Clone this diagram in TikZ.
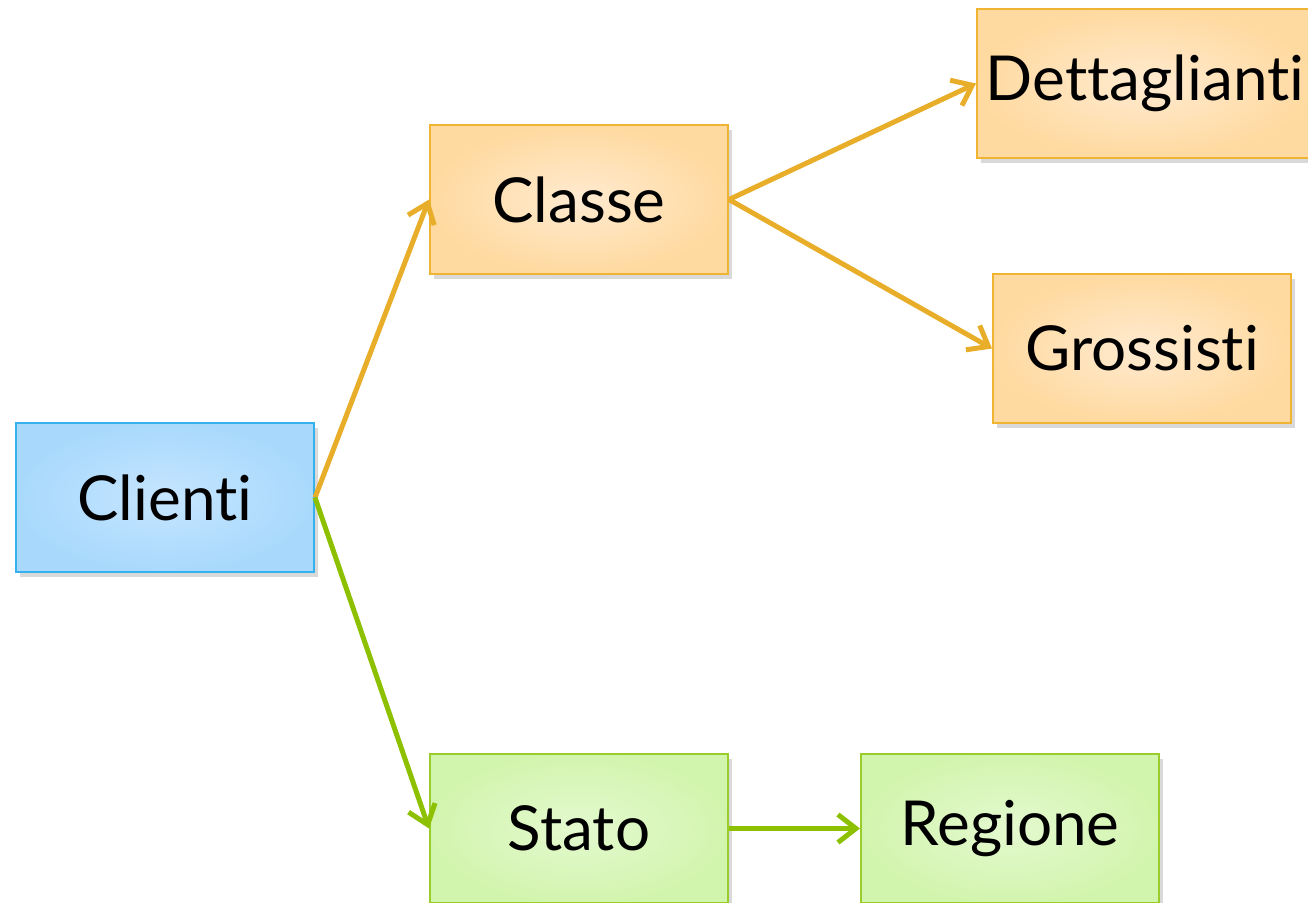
\documentclass[tikz,border=0pt]{standalone}
\usepackage{fontspec}
\setmainfont[Ligatures={NoCommon}]{Lato}
\usetikzlibrary{arrows.meta,shadows}
\definecolor{orangeline}{HTML}{E8AE2A}
\definecolor{orangeedge}{HTML}{F0B332}
\definecolor{orangeout}{HTML}{FFDAA0}
\definecolor{orangein}{HTML}{FFEAD0}
\definecolor{blueedge}{HTML}{35B2EE}
\definecolor{blueout}{HTML}{A8D9FC}
\definecolor{bluein}{HTML}{C6E5FF}
\definecolor{greenline}{HTML}{8DC100}
\definecolor{greenedge}{HTML}{9ACC2C}
\definecolor{greenout}{HTML}{D2F5AE}
\definecolor{greenin}{HTML}{E4F9CF}
\begin{document}
\begin{tikzpicture}[
    x=0.5pt, y=-0.5pt,
    box/.style={rectangle, draw, line width=1pt, minimum width=149pt, minimum height=74.5pt,
                inner sep=0pt, font=\fontsize{31}{36}\selectfont,
                drop shadow={shadow xshift=2pt, shadow yshift=-2.5pt, opacity=0.3}},
    rootbox/.style={box, draw=blueedge, inner color=bluein, outer color=blueout},
    classbox/.style={box, draw=orangeedge, inner color=orangein, outer color=orangeout},
    placebox/.style={box, draw=greenedge, inner color=greenin, outer color=greenout},
    arr/.style={-{Straight Barb[length=9pt, width=14pt, line width=2.5pt]}, line width=2.5pt},
  ]
  \useasboundingbox (0,0) rectangle (1308,902);

  % === root ===
  \node[rootbox] (clienti) at (165, 497.5) {Clienti};

  % === classe branch ===
  \node[classbox] (classe) at (579, 199.5) {Classe};
  \node[classbox, minimum width=168pt] (dett) at (1145, 83.5) {Dettaglianti};
  \node[classbox] (gross) at (1142, 348.5) {Grossisti};

  % === stato branch ===
  \node[placebox] (stato) at (579, 828.5) {Stato};
  \node[placebox] (regione) at (1010, 828.5) {Regione};

  \draw[arr, orangeline] (clienti.east) -- (classe.west);
  \draw[arr, greenline] (clienti.east) -- (stato.west);
  \draw[arr, orangeline] (classe.east) -- (dett.west);
  \draw[arr, orangeline] (classe.east) -- (gross.west);
  \draw[arr, greenline] (stato.east) -- (regione.west);

\end{tikzpicture}
\end{document}
